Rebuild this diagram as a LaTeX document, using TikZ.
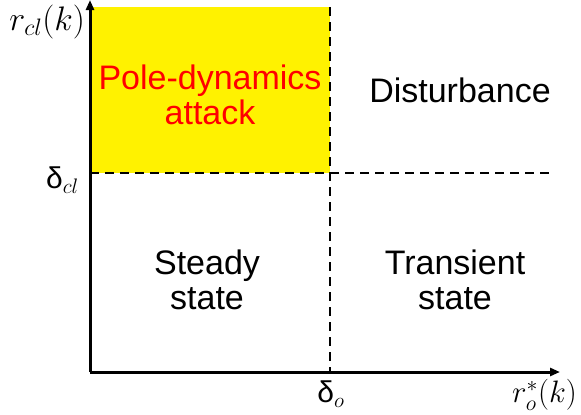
\RequirePackage{fix-cm}
\documentclass[tikz,border=0pt]{standalone}
\usepackage{fontspec}
\setmainfont{Liberation Sans}
\usepackage{tikz}
\usetikzlibrary{arrows.meta,positioning}

\begin{document}
\begin{tikzpicture}[
    x=1pt, y=-1pt,
    >={Triangle[length=10pt,width=8pt]},
    axis/.style={->, line width=3pt},
    border/.style={line width=2.8pt, dash pattern=on 9pt off 6pt},
    region/.style={align=center, font=\fontsize{34}{35}\selectfont},
    mlabel/.style={inner sep=0pt}
]
\useasboundingbox (0,0) rectangle (581,415);

% Axes corners and the two thresholds.
\coordinate (origin) at (90,372);
\coordinate (ytip) at (90,0);
\coordinate (xtip) at (560,372);
\coordinate (dtop) at (330,7);
\coordinate (dbot) at (330,372);
\coordinate (dleft) at (90,173);
\coordinate (dright) at (550,173);

% Attack region.
\fill[yellow] (90,7) rectangle (330,173);

% Thresholds.
\draw[border] (dtop) -- (dbot);
\draw[border] (dleft) -- (dright);

% Axes.
\draw[axis] (origin) -- (ytip);
\draw[axis] (origin) -- (xtip);

% Region names.
\node[region, text=red] (attack) at (210,95) {Pole-dynamics\\attack};
\node[region] (disturb) at (460,90) {Disturbance};
\node[region] (steady) at (207,280) {Steady\\state};
\node[region] (transient) at (455,280) {Transient\\state};

% Axis labels.
\node[mlabel, anchor=east, font=\fontsize{34}{36}\selectfont] (ylab) at (85,22) {$r_{cl}(k)$};
\node[mlabel, anchor=east, font=\fontsize{30}{32}\selectfont] (dcl) at (79,180) {δ$_{cl}$};
\node[mlabel, font=\fontsize{30}{32}\selectfont] (dco) at (331,394) {δ$_{o}$};
\node[mlabel, anchor=east, font=\fontsize{31}{33}\selectfont] (xlab) at (577,395) {$r_{o}^{*}(k)$};

\end{tikzpicture}
\end{document}
